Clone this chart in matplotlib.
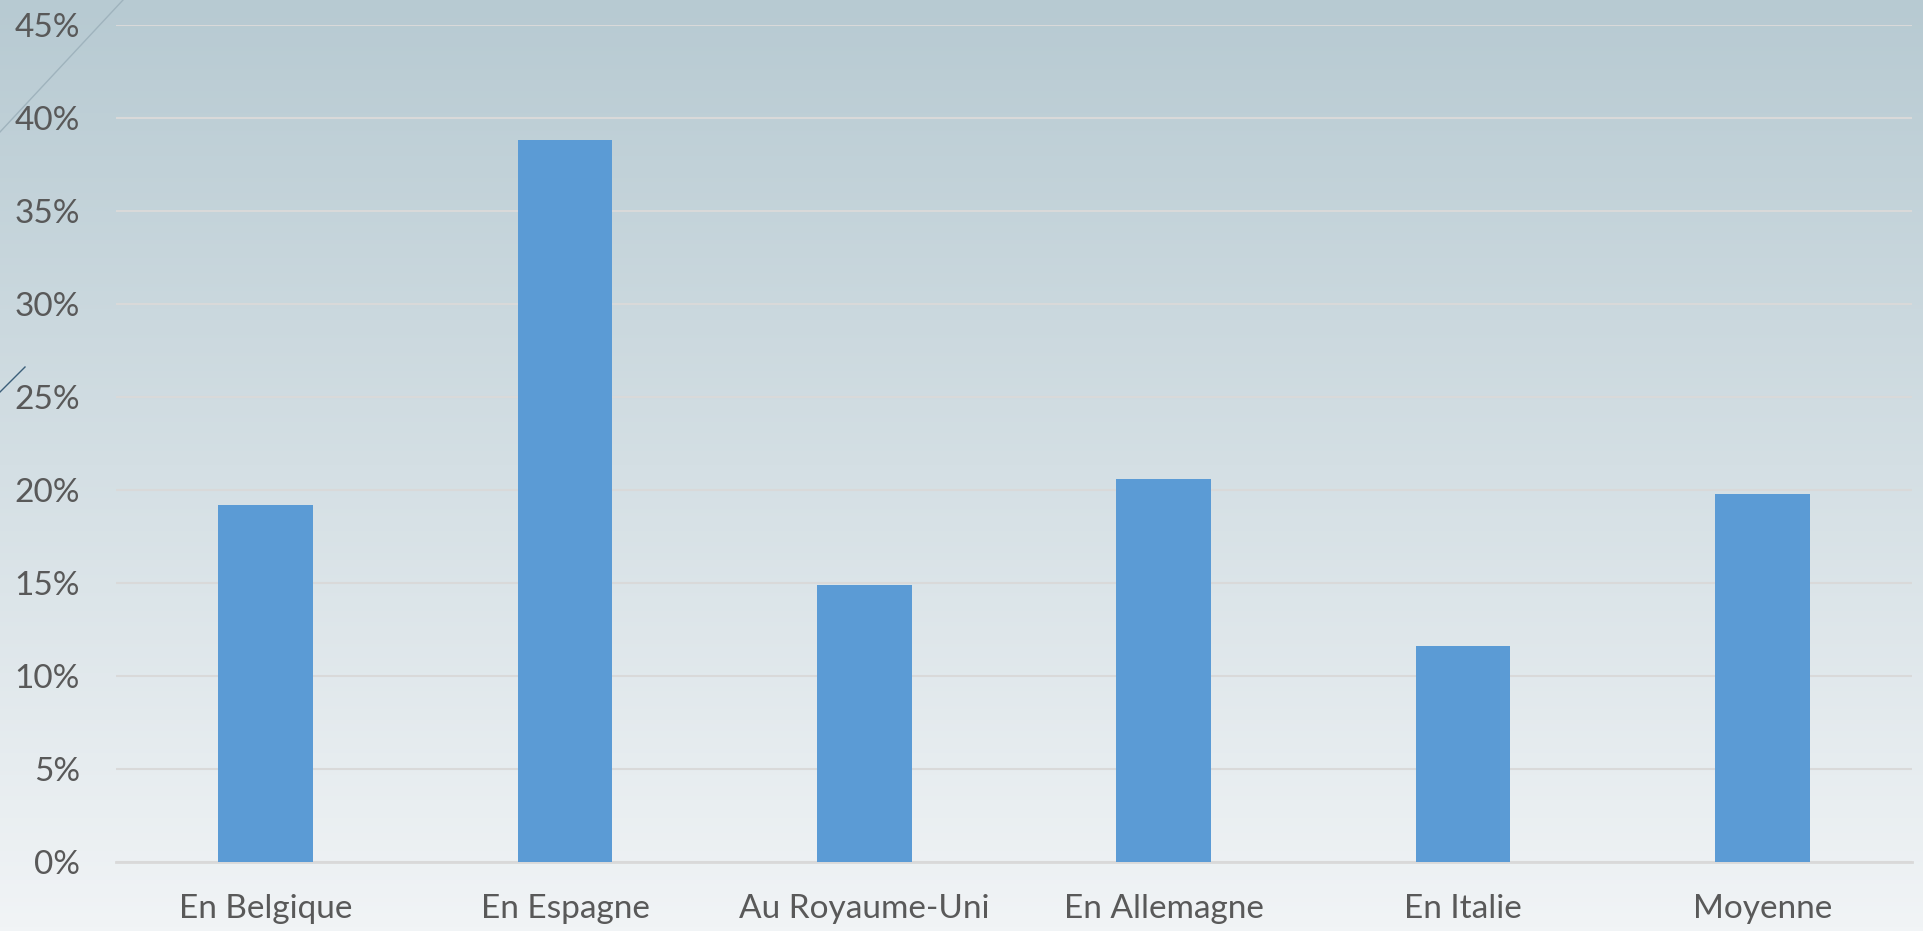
"""
Bar chart: share per country, recreated from an Excel-style figure
"""

import numpy as np
from matplotlib import pyplot as plt
from matplotlib.lines import Line2D
from matplotlib.ticker import PercentFormatter

# data (percent)
categories = ["En Belgique", "En Espagne", "Au Royaume-Uni", "En Allemagne", "En Italie", "Moyenne"]
values = [19.2, 38.8, 14.9, 20.6, 11.6, 19.8]
yticks = [0, 5, 10, 15, 20, 25, 30, 35, 40, 45]

plt.rcParams["font.family"] = ["Lato", "DejaVu Sans"]

fig = plt.figure(figsize=(19.24, 9.31), dpi=100)

# background: vertical gradient, blue-grey at the top to almost white at the bottom
bg = fig.add_axes([0, 0, 1, 1], zorder=0)
top = np.array([183, 202, 210]) / 255
bottom = np.array([241, 244, 246]) / 255
t = np.linspace(0, 1, 256)[:, None]
grad = (top * (1 - t) + bottom * t)[:, None, :]
bg.imshow(grad, aspect="auto", extent=[0, 1, 0, 1])
bg.set_axis_off()

# thin decorative diagonal lines in the top left corner
fig.add_artist(Line2D([0, 123 / 1924], [1 - 132 / 931, 1], transform=fig.transFigure,
                      color="#9fb3bd", lw=1.0))
fig.add_artist(Line2D([0, 25 / 1924], [1 - 392 / 931, 1 - 367 / 931], transform=fig.transFigure,
                      color="#3b5f7a", lw=1.0))

# main plot
ax = fig.add_axes([116 / 1924, 1 - 862 / 931, (1912 - 116) / 1924, (862 - 25) / 931], zorder=1)
ax.patch.set_alpha(0)

x = np.arange(len(categories))
ax.bar(x, values, width=0.316, color="#5b9bd5", zorder=3)

ax.set_xlim(-0.5, len(categories) - 0.5)
ax.set_ylim(0, 45)
ax.set_yticks(yticks)
ax.yaxis.set_major_formatter(PercentFormatter(decimals=0))
ax.set_xticks(x)
ax.set_xticklabels(categories)

ax.grid(axis="y", color="#d9d9d9", lw=1.5, zorder=1)
for s in ["top", "right", "left"]:
    ax.spines[s].set_visible(False)
ax.spines["bottom"].set_color("#d9d9d9")
ax.spines["bottom"].set_linewidth(2)

ax.tick_params(axis="y", length=0, pad=26, labelsize=24, labelcolor="#595959")
ax.tick_params(axis="x", length=0, pad=23, labelsize=24, labelcolor="#595959")

plt.savefig("out.png", dpi=100)
